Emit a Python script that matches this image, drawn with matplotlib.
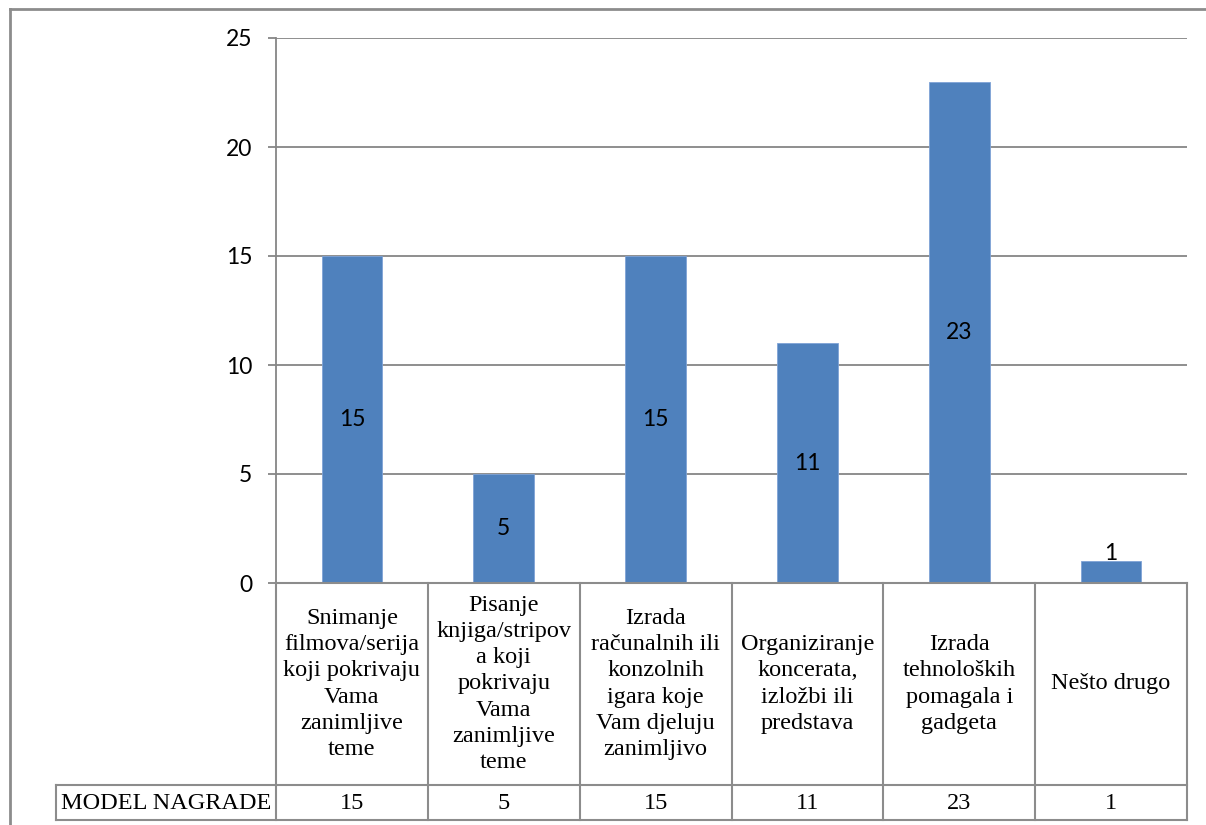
import matplotlib
matplotlib.use("Agg")
import matplotlib.pyplot as plt
from matplotlib.lines import Line2D

categories = [
    "Snimanje\nfilmova/serija\nkoji pokrivaju\nVama\nzanimljive\nteme",
    "Pisanje\nknjiga/stripov\na koji\npokrivaju\nVama\nzanimljive\nteme",
    "Izrada\nračunalnih ili\nkonzolnih\nigara koje\nVam djeluju\nzanimljivo",
    "Organiziranje\nkoncerata,\nizložbi ili\npredstava",
    "Izrada\ntehnoloških\npomagala i\ngadgeta",
    "Nešto drugo",
]
values = [15, 5, 15, 11, 23, 1]
series_name = "MODEL NAGRADE"
y_ticks = [0, 5, 10, 15, 20, 25]

W, H = 1206, 825
fig = plt.figure(figsize=(W / 100, H / 100), dpi=100)
fig.patch.set_facecolor("white")

def fx(px):
    return px / W

def fy(py):
    return 1 - py / H

grid_c = "#868686"
bar_c = "#4F81BD"
serif = "Liberation Serif"
sans = "Lato"
sans_size = 16.5
serif_size = 17.5

# plot area
x0, x1, ytop, ybot = 276, 1187, 38, 583
ax = fig.add_axes([fx(x0), fy(ybot), fx(x1) - fx(x0), fy(ytop) - fy(ybot)])
n = len(values)
ax.set_xlim(0, n)
ax.set_ylim(0, 25)
pos = [i + 0.5 for i in range(n)]
ax.bar(pos, values, width=0.4, color=bar_c, edgecolor="#7FA3D6", linewidth=0.6, zorder=3)
ax.set_yticks(y_ticks)
ax.set_yticklabels([str(t) for t in y_ticks], fontsize=sans_size, family=sans)
ax.set_xticks([])
ax.yaxis.grid(True, color=grid_c, linewidth=1.3, zorder=0)
for s in ["top", "right", "bottom"]:
    ax.spines[s].set_visible(False)
ax.spines["left"].set_color(grid_c)
ax.spines["left"].set_linewidth(1.3)
ax.tick_params(axis="y", length=6, width=1.3, color=grid_c, pad=11)

for p, v in zip(pos, values):
    if v >= 3:
        ax.text(p, v / 2, str(v), ha="center", va="center", fontsize=sans_size, family=sans, zorder=4)
    else:
        ax.annotate(str(v), (p, v), xytext=(0, 8), textcoords="offset pixels",
                    ha="center", va="center", fontsize=sans_size, family=sans, zorder=4)

# data table below the axis
col_w = (x1 - x0) / n
row1_top, row1_bot, row2_bot = 583, 785, 820
label_left = 56
lc = "#8C8C8C"
lw = 1.5

def hline(xa, xb, y):
    fig.add_artist(Line2D([fx(xa), fx(xb)], [fy(y), fy(y)], color=lc, linewidth=lw))

def vline(x, ya, yb):
    fig.add_artist(Line2D([fx(x), fx(x)], [fy(ya), fy(yb)], color=lc, linewidth=lw))

hline(x0, x1, row1_top)
hline(label_left, x1, row1_bot)
hline(label_left, x1, row2_bot)
vline(label_left, row1_bot, row2_bot)
for i in range(n + 1):
    vline(x0 + i * col_w, row1_top, row2_bot)

for i, (c, v) in enumerate(zip(categories, values)):
    cx = x0 + (i + 0.5) * col_w
    fig.text(fx(cx), fy((row1_top + row1_bot) / 2), c, ha="center", va="center",
             fontsize=serif_size, family=serif, linespacing=1.32)
    fig.text(fx(cx), fy((row1_bot + row2_bot) / 2 + 1), str(v), ha="center", va="center",
             fontsize=serif_size, family=serif)
fig.text(fx(label_left + 5), fy((row1_bot + row2_bot) / 2 + 1), series_name, ha="left", va="center",
         fontsize=serif_size, family=serif)

# outer frame
fig.add_artist(Line2D([fx(10), fx(W)], [fy(9), fy(9)], color=lc, linewidth=2))
fig.add_artist(Line2D([fx(10), fx(10)], [fy(9), fy(H)], color=lc, linewidth=2))

fig.savefig("out.png", dpi=100)
